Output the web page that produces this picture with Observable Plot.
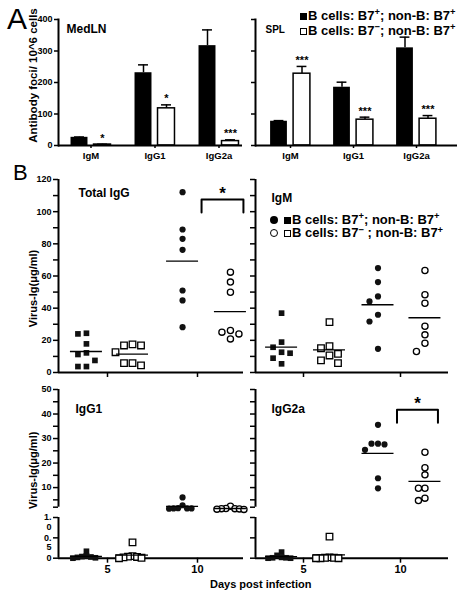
<!DOCTYPE html>
<html><head><meta charset="utf-8">
<script src="https://cdn.jsdelivr.net/npm/d3@7"></script>
<script src="https://cdn.jsdelivr.net/npm/@observablehq/plot@0.6"></script>
<style>
body{margin:0;background:#fff;}
#fig{position:relative;width:461px;height:601px;font-family:"Liberation Sans",Arial,Helvetica,sans-serif;font-weight:bold;color:#000;overflow:hidden;}
#fig > svg{position:absolute;left:0;top:0;}
.t{position:absolute;white-space:nowrap;line-height:1;}
.t sup{font-size:0.72em;vertical-align:0;position:relative;top:-0.45em;line-height:0;}
.mk{display:inline-block;box-sizing:border-box;vertical-align:0;}
.sq{width:7px;height:7px;background:#000;margin-right:1px;}
.osq{width:7px;height:7px;background:#fff;border:1.2px solid #000;margin-right:1px;}
.ci{width:8px;height:8px;border-radius:50%;background:#000;margin-right:6px;}
.oci{width:8px;height:8px;border-radius:50%;background:#fff;border:1.4px solid #000;margin-right:6px;}
</style></head><body><div id="fig"></div>
<script>
// ---------------- Panel A data ----------------
const isotypes = ["IgM", "IgG1", "IgG2a"];
const medlnPos    = [26, 231, 317];
const medlnPosErr = [1, 25, 50];
const medlnNeg    = [3, 118, 14];
const medlnNegErr = [1, 11, 4];
const medlnStars  = ["*", "*", "***"];
const splPos      = [77, 185, 310];
const splPosErr   = [2, 16, 34];
const splNeg      = [228, 82, 85];
const splNegErr   = [23, 8, 10];
const splStars    = ["***", "***", "***"];
const fociTicks   = [0, 100, 200, 300, 400];

// ---------------- Panel B data (order: day5 B7+, day5 B7-, day10 B7+, day10 B7-) ----------------
const dayTicks = [5, 10];
const totalIgG_d5_pos  = [24.4, 24.0, 17.8, 12.2, 11.2, 7.5, 3.7, 3.7];
const totalIgG_d5_neg  = [17.5, 16.8, 16.8, 12.6, 5.8, 5.8, 4.4];
const totalIgG_d10_pos = [112.1, 88.9, 83.1, 76.3, 51.0, 44.8, 28.2];
const totalIgG_d10_neg = [62.4, 56.2, 49.9, 26.1, 25.1, 24.0, 20.9];
const igm_d5_pos  = [36.9, 18.9, 15.7, 12.6, 12.0, 8.9, 5.4];
const igm_d5_neg  = [31.3, 16.4, 15.1, 11.6, 10.6, 7.5, 5.8];
const igm_d10_pos = [64.9, 56.2, 47.3, 44.2, 35.9, 31.7, 14.7];
const igm_d10_neg = [63.4, 48.3, 43.1, 28.8, 23.4, 18.2, 13.1];
const igg1_d5_pos  = [0.17, 0.06, 0.04, 0.03, 0.02, 0.01, 0.0];
const igg1_d5_neg  = [0.39, 0.05, 0.04, 0.03, 0.02, 0.01, 0.0];
const igg1_d10_pos = [6.0, 2.8, 1.6, 1.5, 1.5, 1.5, 1.4];
const igg1_d10_neg = [2.4, 1.5, 1.4, 1.4, 1.3, 1.2, 1.1];
const igg2a_d5_pos  = [0.15, 0.07, 0.02, 0.01, 0.01, 0.0, 0.0];
const igg2a_d5_neg  = [0.53, 0.02, 0.01, 0.01, 0.0, 0.0, 0.0];
const igg2a_d10_pos = [35.6, 27.9, 27.9, 27.6, 25.4, 13.8, 9.7];
const igg2a_d10_neg = [24.4, 18.1, 15.2, 9.7, 9.7, 5.7, 4.7];
const totalIgGSig = {y: 107.5, label: "*"};
const igg2aSig    = {y: 41.7, label: "*"};
const topTicks = [0,10,20,30,40,50,60,70,80,90,100,110,120];
const topLabels = [0,20,40,60,80,100,120];
const upperTicks = [2, 5, 10, 15, 20, 25, 30, 35, 40, 45, 50];
const upperLabels = [10, 20, 30, 40, 50];
const lowerTicks = [0, 0.5, 1];
const lowerLabels = [0];
const lowerWrapped = [0.5, 1];

// ---------------- layout ----------------
const W = 461, H = 601;
const FF = '"Liberation Sans", Arial, Helvetica, sans-serif';
const fig = document.getElementById("fig");
const STYLE = {background: "transparent", overflow: "visible", fontFamily: FF, fontWeight: "bold", color: "black"};

function basePlot(x0, x1, y0, y1, opts) {
  return Plot.plot({width: W, height: H, marginLeft: x0, marginRight: W - x1, marginTop: y0, marginBottom: H - y1, style: STYLE, ...opts});
}

function barPanel(c) {
  const xOpt = {type: "band", domain: isotypes, range: [c.x0, c.x1], paddingInner: 0.3, paddingOuter: c.po, align: c.align};
  const bwScale = d3.scaleBand(isotypes, [c.x0, c.x1]).paddingInner(0.3).paddingOuter(c.po).align(c.align);
  const half = bwScale.bandwidth() / 2, BWID = 17, OFF = 11.5;
  const rows = isotypes.map((k, i) => ({k, pv: c.pos[i], pe: c.posErr[i], nv: c.neg[i], ne: c.negErr[i], star: c.stars[i]}));
  const marks = [
    Plot.ruleX(rows, {x: "k", y1: "pv", y2: d => d.pv + d.pe, dx: -OFF, strokeWidth: 1.5}),
    Plot.tickY(rows, {x: "k", y: d => d.pv + d.pe, dx: -OFF, insetLeft: half - 5, insetRight: half - 5, strokeWidth: 1.5}),
    Plot.barY(rows, {x: "k", y: "pv", fill: "black", insetLeft: half - OFF - BWID / 2, insetRight: half + OFF - BWID / 2}),
    Plot.ruleX(rows, {x: "k", y1: "nv", y2: d => d.nv + d.ne, dx: OFF, strokeWidth: 1.5}),
    Plot.tickY(rows, {x: "k", y: d => d.nv + d.ne, dx: OFF, insetLeft: half - 5, insetRight: half - 5, strokeWidth: 1.5}),
    Plot.barY(rows, {x: "k", y: "nv", fill: "white", stroke: "black", strokeWidth: 1.5, insetLeft: half + OFF - BWID / 2, insetRight: half - OFF - BWID / 2}),
    Plot.text(rows, {x: "k", y: d => d.nv + d.ne, text: "star", dx: OFF, dy: -6, fontSize: 11}),
    Plot.ruleY([0], {strokeWidth: 2}),
    Plot.frame({anchor: "left", strokeWidth: 2}),
    Plot.axisY({ticks: fociTicks, tickSize: 4, tickPadding: 2, fontSize: 9, strokeWidth: 1.5, label: null, tickFormat: c.yLabels ? d => String(d) : () => ""}),
    Plot.axisX({tickSize: 3, tickPadding: 3.5, fontSize: 9.5, strokeWidth: 1.5, label: null}),
    Plot.text([c.title], {text: d => d, frameAnchor: "top-left", textAnchor: "start", dx: c.titleDx, dy: c.titleDy, fontSize: c.titleSize})
  ];
  if (c.yLabel) marks.push(Plot.text([c.yLabel], {text: d => d, frameAnchor: "left", textAnchor: "middle", rotate: -90, dx: -25, dy: -7, fontSize: 11.5}));
  return basePlot(c.x0, c.x1, 19, 145, {x: xOpt, y: {domain: [0, 400], range: [145, 19]}, marks});
}

function dodge(py, step) {
  const order = d3.range(py.length).sort((a, b) => py[a] - py[b]);
  const placed = [], off = new Array(py.length).fill(0);
  for (const i of order) {
    const y = py[i];
    if (!isFinite(y)) continue;
    for (let k = 0; k < 60; k++) {
      const cx = k === 0 ? 0 : (k % 2 ? -1 : 1) * Math.ceil(k / 2) * step;
      if (placed.every(p => (p.x - cx) ** 2 + (p.y - y) ** 2 >= step * step * 0.95)) {
        off[i] = cx; placed.push({x: cx, y}); break;
      }
    }
  }
  return off;
}

const LEFT  = {x0: 58,  x1: 243, xDomain: [2.278, 12.556], gx: [3.83, 6.39, 9.17, 11.83]};
const RIGHT = {x0: 255, x1: 448, xDomain: [2.526, 12.474], gx: [3.87, 6.34, 8.84, 11.26]};
const SYM = [
  {symbol: "square", fill: "#111", r: 3.2},
  {symbol: "square", fill: "white", stroke: "black", strokeWidth: 1.3, r: 3.7},
  {symbol: "circle", fill: "#111", r: 3.1},
  {symbol: "circle", fill: "white", stroke: "black", strokeWidth: 1.3, r: 3.1}
];

function scatterPanel(c) {
  const col = c.col;
  const ys = d3.scaleLinear(c.yDomain, c.yRange);
  const ppd = (col.x1 - col.x0) / (col.xDomain[1] - col.xDomain[0]);
  const pts = [], means = [];
  c.data.forEach((vals, g) => {
    if (!vals) return;
    const off = dodge(vals.map(v => ys(v)), c.step || 8.5);
    vals.forEach((v, i) => pts.push({g, v, x: col.gx[g] + off[i] / ppd}));
    means.push({g, m: d3.mean(vals), x1: col.gx[g] - 16 / ppd, x2: col.gx[g] + 16 / ppd});
  });
  const marks = [
    Plot.ruleX([col.xDomain[0]], {x: d => d, y1: c.seg[0], y2: c.seg[1], strokeWidth: 2}),
    Plot.axisY({ticks: c.ticks, tickSize: 5, strokeWidth: 1.5, label: null, tickFormat: () => ""})
  ];
  if (c.baseline) {
    marks.push(Plot.ruleY([0], {strokeWidth: 2}));
    marks.push(Plot.axisX({ticks: dayTicks, tickSize: 5, tickPadding: 1.5, fontSize: 11, strokeWidth: 1.5, label: null, tickFormat: c.xLabels ? d => String(d) : () => ""}));
  } else {
    marks.push(Plot.axisX({ticks: [], label: null}));
  }
  if (c.labels) marks.push(Plot.axisY({ticks: c.labels, tickSize: 0, tickPadding: 7, fontSize: 9, label: null, tickFormat: d => String(d)}));
  if (c.wrapped) marks.push(Plot.axisY({ticks: c.wrapped, tickSize: 0, tickPadding: 7, fontSize: 9, dy: 4.5, lineHeight: 1.1, label: null, tickFormat: d => d.toFixed(1).replace(".", ".\n")}));
  SYM.forEach((s, g) => { const p = pts.filter(q => q.g === g); if (p.length) marks.push(Plot.dot(p, {x: "x", y: "v", ...s})); });
  marks.push(Plot.ruleY(means, {y: "m", x1: "x1", x2: "x2", strokeWidth: 1.3}));
  if (c.title) marks.push(Plot.text([c.title], {text: d => d, frameAnchor: "top-left", textAnchor: "start", dx: c.titleDx, dy: c.titleDy, fontSize: 12}));
  if (c.yLabel) marks.push(Plot.text([c.yLabel], {text: d => d, frameAnchor: "left", textAnchor: "middle", rotate: -90, dx: -25, dy: c.yLabelDy, fontSize: 11}));
  if (c.sig) {
    const xa = col.gx[2] + 19 / ppd, xb = col.gx[3] + 13 / ppd;
    const yb = ys.invert(ys(c.sig.y) + 13);
    marks.push(Plot.line([[xa, yb], [xa, c.sig.y], [xb, c.sig.y], [xb, yb]], {x: d => d[0], y: d => d[1], strokeWidth: 2}));
    marks.push(Plot.text([c.sig.label], {text: d => d, x: (xa + xb) / 2, y: c.sig.y, dy: -6, fontSize: 17}));
  }
  return basePlot(col.x0, col.x1, c.yRange[1], c.yRange[0], {x: {domain: col.xDomain}, y: {domain: c.yDomain, range: c.yRange}, marks});
}

const TOP = {yDomain: [0, 120], yRange: [372, 179], ticks: topTicks, seg: [0, 120], baseline: true};
const UPPER = {yDomain: [2, 50], yRange: [506.7, 389], ticks: upperTicks, seg: [2, 50], baseline: false};
const LOWER = {yDomain: [0, 1], yRange: [557.7, 517], ticks: lowerTicks, seg: [0, 1], baseline: true, xLabels: true, step: 4.5};

const specs = [
  () => barPanel({x0: 58, x1: 242, po: 0.08, align: 0.9, pos: medlnPos, posErr: medlnPosErr, neg: medlnNeg, negErr: medlnNegErr, stars: medlnStars, yLabels: true, title: "MedLN", titleSize: 12, titleDx: 8, titleDy: 5, yLabel: "Antibody foci/ 10^6 cells"}),
  () => barPanel({x0: 255, x1: 457, po: 0.25, align: 0.4, pos: splPos, posErr: splPosErr, neg: splNeg, negErr: splNegErr, stars: splStars, yLabels: false, title: "SPL", titleSize: 10, titleDx: 10, titleDy: 6}),
  () => scatterPanel({...TOP, col: LEFT, data: [totalIgG_d5_pos, totalIgG_d5_neg, totalIgG_d10_pos, totalIgG_d10_neg], labels: topLabels, title: "Total IgG", titleDx: 20, titleDy: 9, yLabel: "Virus-Ig(\u03bcg/ml)", yLabelDy: 12.5, sig: totalIgGSig}),
  () => scatterPanel({...TOP, col: RIGHT, data: [igm_d5_pos, igm_d5_neg, igm_d10_pos, igm_d10_neg], title: "IgM", titleDx: 16, titleDy: 14}),
  () => scatterPanel({...UPPER, col: LEFT, step: 4.5, data: [null, null, igg1_d10_pos, igg1_d10_neg], labels: upperLabels, title: "IgG1", titleDx: 17, titleDy: 15, yLabel: "Virus-Ig(\u03bcg/ml)", yLabelDy: 22}),
  () => scatterPanel({...LOWER, col: LEFT, data: [igg1_d5_pos, igg1_d5_neg, null, null], labels: lowerLabels, wrapped: lowerWrapped}),
  () => scatterPanel({...UPPER, col: RIGHT, step: 6.5, data: [null, null, igg2a_d10_pos, igg2a_d10_neg], title: "IgG2a", titleDx: 16, titleDy: 15, sig: igg2aSig}),
  () => scatterPanel({...LOWER, col: RIGHT, data: [igg2a_d5_pos, igg2a_d5_neg, null, null]})
];
specs.forEach(f => { try { fig.appendChild(f()); } catch (e) { console.error(e); } });

// ---------------- HTML annotations: panel letters, legends, shared x label ----------------
function addText(html, left, top, size, extra) {
  const d = document.createElement("div");
  d.className = "t";
  d.style.left = left + "px"; d.style.top = top + "px"; d.style.fontSize = size + "px";
  if (extra) Object.assign(d.style, extra);
  d.innerHTML = html;
  fig.appendChild(d);
}
addText("A", 7, 4, 30, {fontWeight: "normal"});
addText("B", 13, 162, 22, {fontWeight: "normal"});
addText('<i class="mk sq"></i>B cells: B7<sup>+</sup>; non-B: B7<sup>+</sup>', 300, 8.5, 13);
addText('<i class="mk osq"></i>B cells: B7<sup>\u2212</sup>; non-B: B7<sup>+</sup>', 300, 23.5, 13);
addText('<i class="mk ci"></i><i class="mk sq"></i>B cells: B7<sup>+</sup>; non-B: B7<sup>+</sup>', 270, 212.5, 13);
addText('<i class="mk oci"></i><i class="mk osq"></i>B cells: B7<sup>\u2212</sup> ; non-B: B7<sup>+</sup>', 270, 226, 13);
addText("Days post infection", 210, 579, 11);
</script></body></html>
